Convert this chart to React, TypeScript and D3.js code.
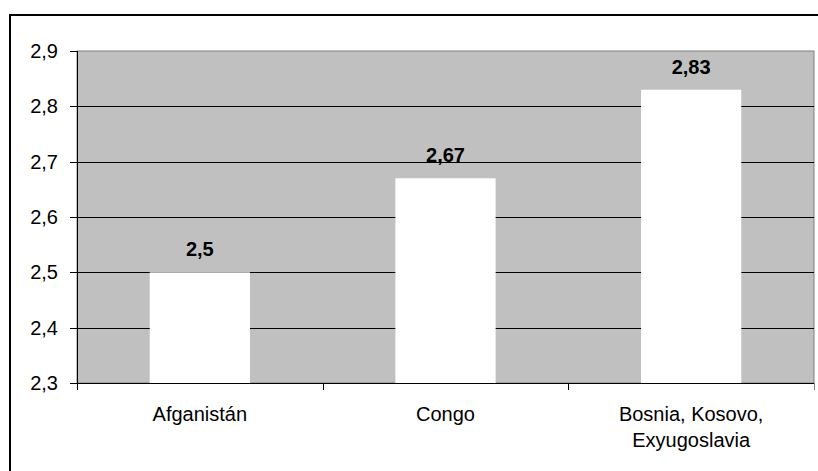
import React from "react";
import * as d3 from "d3";

const categories: string[][] = [["Afganistán"], ["Congo"], ["Bosnia, Kosovo,", "Exyugoslavia"]];
const values: number[] = [2.5, 2.67, 2.83];
const valueLabels: string[] = ["2,5", "2,67", "2,83"];
const yTicks: number[] = [2.3, 2.4, 2.5, 2.6, 2.7, 2.8, 2.9];
const yTickLabels: string[] = ["2,3", "2,4", "2,5", "2,6", "2,7", "2,8", "2,9"];

const W = 818;
const H = 471;
const plot = { left: 77, right: 814, top: 51, bottom: 383 };
const FONT = "'Liberation Sans', Arial, sans-serif";

export default function App() {
  const x = d3
    .scaleBand<number>()
    .domain(d3.range(categories.length))
    .range([plot.left, plot.right])
    .padding(0);
  const y = d3.scaleLinear().domain([2.3, 2.9]).range([plot.bottom, plot.top]);
  const step = x.step();
  const barW = step * 0.408;

  return (
    <svg
      width={W}
      height={H}
      style={{ position: "absolute", left: 0, top: 0, background: "#fff" }}
      fontFamily={FONT}
    >
      {/* outer chart border */}
      <rect x={10} y={15} width={W + 20} height={H + 20} fill="none" stroke="#000" strokeWidth={2} />

      {/* plot area */}
      <rect
        x={plot.left}
        y={plot.top}
        width={plot.right - plot.left}
        height={plot.bottom - plot.top}
        fill="#C0C0C0"
        stroke="#808080"
        strokeWidth={1}
      />

      {/* gridlines */}
      {yTicks.slice(1, -1).map((t) => (
        <line
          key={"g" + t}
          x1={plot.left}
          x2={plot.right}
          y1={Math.round(y(t)) + 0.5}
          y2={Math.round(y(t)) + 0.5}
          stroke="#000"
          strokeWidth={1}
        />
      ))}

      {/* bars */}
      {values.map((v, i) => (
        <rect
          key={"b" + i}
          x={(x(i) as number) + (step - barW) / 2}
          y={y(v)}
          width={barW}
          height={plot.bottom - y(v)}
          fill="#fff"
        />
      ))}

      {/* value labels */}
      {values.map((v, i) => (
        <text
          key={"v" + i}
          x={(x(i) as number) + step / 2}
          y={y(v) - 16}
          textAnchor="middle"
          fontSize={20}
          fontWeight="bold"
          fill="#000"
        >
          {valueLabels[i]}
        </text>
      ))}

      {/* y axis */}
      <line x1={plot.left + 0.5} x2={plot.left + 0.5} y1={plot.top} y2={plot.bottom + 7} stroke="#000" />
      {yTicks.map((t, i) => (
        <g key={"t" + t}>
          <line
            x1={plot.left - 7}
            x2={plot.left}
            y1={Math.round(y(t)) + 0.5}
            y2={Math.round(y(t)) + 0.5}
            stroke="#000"
          />
          <text
            x={58}
            y={y(t)}
            dy="0.35em"
            textAnchor="end"
            fontSize={20}
            fill="#000"
          >
            {yTickLabels[i]}
          </text>
        </g>
      ))}

      {/* x axis */}
      <line x1={plot.left} x2={plot.right} y1={plot.bottom + 0.5} y2={plot.bottom + 0.5} stroke="#000" />
      {d3.range(categories.length + 1).map((i) => (
        <line
          key={"xt" + i}
          x1={Math.round(plot.left + i * step) + 0.5}
          x2={Math.round(plot.left + i * step) + 0.5}
          y1={plot.bottom}
          y2={plot.bottom + 7}
          stroke={i === categories.length ? "#808080" : "#000"}
        />
      ))}
      {categories.map((lines, i) => (
        <text
          key={"c" + i}
          x={(x(i) as number) + step / 2}
          y={421}
          textAnchor="middle"
          fontSize={20}
          fill="#000"
        >
          {lines.map((l, j) => (
            <tspan key={j} x={(x(i) as number) + step / 2} dy={j === 0 ? 0 : 26}>
              {l}
            </tspan>
          ))}
        </text>
      ))}
    </svg>
  );
}
